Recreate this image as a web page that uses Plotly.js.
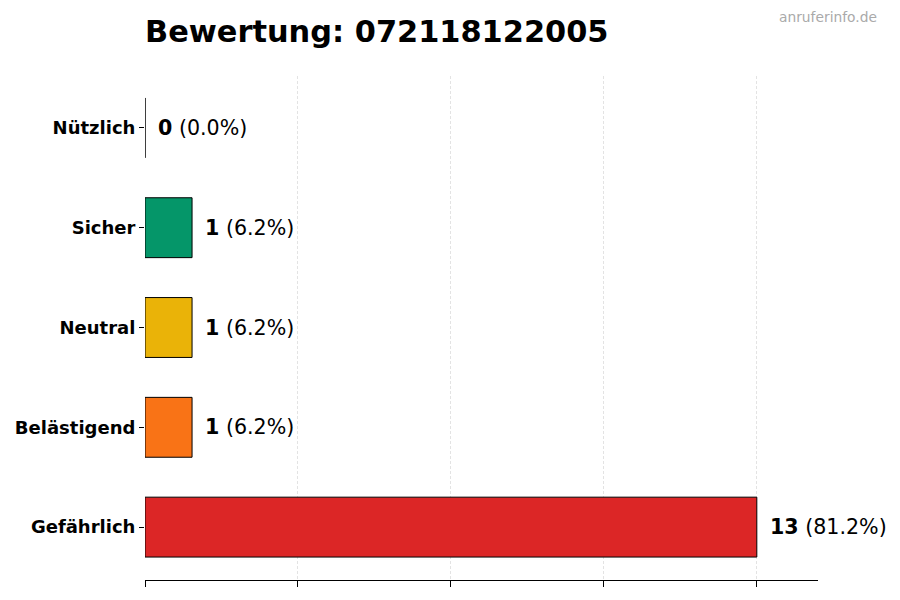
<!DOCTYPE html>
<html>
<head>
<meta charset="utf-8">
<script src="https://cdn.plot.ly/plotly-3.0.1.min.js"></script>
<style>
  html, body { margin: 0; padding: 0; background: #fff; }
  #plotDiv { width: 900px; height: 600px; }
</style>
</head>
<body>
<div id="plotDiv"></div>
<script>
/* =========================
   Rating bar chart
========================= */

const categories = ['Nützlich', 'Sicher', 'Neutral', 'Belästigend', 'Gefährlich'];
const counts = [0, 1, 1, 1, 13];
const percents = ['0.0', '6.2', '6.2', '6.2', '81.2'];
const barColors = ['#16a34a', '#059669', '#eab308', '#f97316', '#dc2626'];
const gridTicks = [0, 3.25, 6.5, 9.75, 13];

const FONT = 'DejaVu Sans, Verdana, sans-serif';

const labels = categories.map((cat, i) => ({
    x: counts[i],
    y: cat,
    xref: 'x',
    yref: 'y',
    xanchor: 'left',
    yanchor: 'middle',
    xshift: 11,
    showarrow: false,
    text: `<b>${counts[i]}</b> (${percents[i]}%)`,
    font: { family: FONT, size: 20.6, color: '#000' }
}));

const data = [{
    type: 'bar',
    orientation: 'h',
    x: counts,
    y: categories,
    width: 0.6,
    marker: { color: barColors, line: { color: '#000', width: 1 } },
    hoverinfo: 'skip'
}];

const layout = {
    width: 900,
    height: 600,
    margin: { l: 145, r: 82, t: 76, b: 20 },
    paper_bgcolor: '#fff',
    plot_bgcolor: '#fff',
    font: { family: FONT, color: '#000' },
    showlegend: false,
    title: {
        text: '<b>Bewertung: 072118122005</b>',
        font: { family: FONT, size: 30.4, color: '#000' },
        xref: 'container',
        yref: 'container',
        x: 145 / 900,
        xanchor: 'left',
        y: 1 - 31 / 600,
        yanchor: 'middle'
    },
    xaxis: {
        range: [0, 14.3],
        tickvals: gridTicks,
        ticktext: gridTicks.map(() => ''),
        ticks: 'outside',
        ticklen: 6,
        tickcolor: '#000',
        showline: true,
        linecolor: '#000',
        linewidth: 1,
        showgrid: true,
        gridcolor: '#dcdcdc',
        griddash: '3px,2px',
        gridwidth: 0.8,
        zeroline: false,
        fixedrange: true
    },
    yaxis: {
        type: 'category',
        range: [4.53, -0.52],
        ticks: 'outside',
        ticklen: 5,
        tickcolor: '#000',
        showline: false,
        showgrid: false,
        zeroline: false,
        tickfont: { family: FONT, size: 18, color: '#000', weight: 'bold' },
        fixedrange: true
    },
    annotations: [
        ...labels,
        {
            xref: 'paper',
            yref: 'paper',
            x: (879 - 145) / 673,
            y: (580 - 17) / 504,
            xanchor: 'right',
            yanchor: 'middle',
            showarrow: false,
            text: 'anruferinfo.de',
            font: { family: FONT, size: 13.8, color: '#aaaaaa' }
        }
    ]
};

Plotly.newPlot('plotDiv', data, layout, { displayModeBar: false, staticPlot: true });
</script>
</body>
</html>
